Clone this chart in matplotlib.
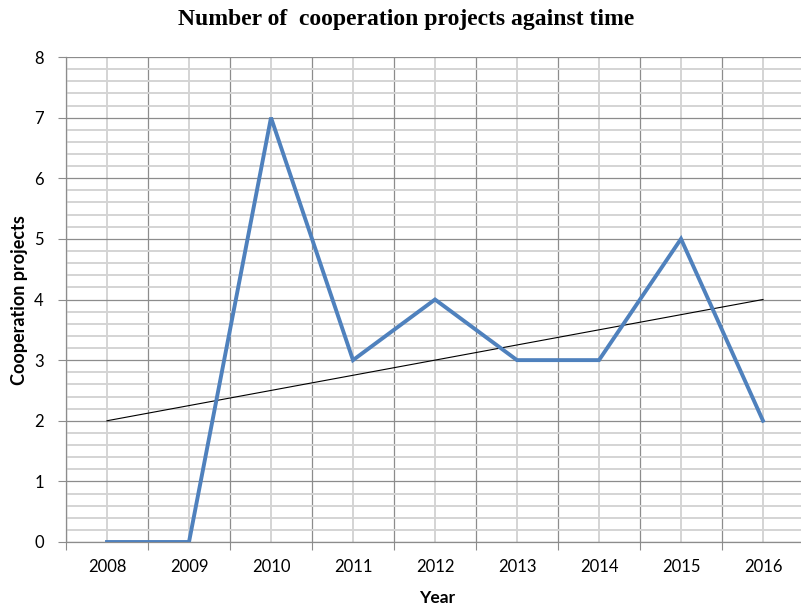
import matplotlib.pyplot as plt
import numpy as np

years = ["2008", "2009", "2010", "2011", "2012", "2013", "2014", "2015", "2016"]
projects = [0, 0, 7, 3, 4, 3, 3, 5, 2]
trend_start, trend_end = 2, 4

x = np.arange(len(years))

fig = plt.figure(figsize=(8.01, 6.09), dpi=100)
ax = fig.add_axes([66 / 801, 1 - 542 / 609, 738 / 801, 485 / 609])

# grid: edges between years and whole numbers are darker, centres and fifths lighter
ax.set_xlim(-0.5, len(years) - 0.5)
ax.set_ylim(0, 8)
ax.set_xticks(np.arange(-0.5, len(years), 1.0))
ax.set_xticks(x, minor=True)
ax.set_yticks(np.arange(0, 9, 1))
ax.set_yticks(np.arange(0, 8.01, 0.2), minor=True)
ax.grid(which="major", color="#8c8c8c", lw=0.9)
ax.grid(which="minor", color="#d4d4d4", lw=1.4)
ax.set_axisbelow(True)

ax.set_xticklabels([])
ax.set_xticklabels(years, minor=True)
ax.tick_params(axis="x", which="major", length=6, color="#8c8c8c")
ax.tick_params(axis="x", which="minor", length=0, pad=12, labelsize=12)
ax.tick_params(axis="y", which="major", length=6, color="#8c8c8c", labelsize=12, pad=10)
ax.tick_params(axis="y", which="minor", length=0)
for lab in ax.get_xticklabels(minor=True) + ax.get_yticklabels():
    lab.set_fontfamily("Lato")

for side in ("top", "right"):
    ax.spines[side].set_visible(False)
for side in ("left", "bottom"):
    ax.spines[side].set_color("#8c8c8c")
    ax.spines[side].set_linewidth(0.9)

ax.plot([x[0], x[-1]], [trend_start, trend_end], color="black", lw=0.8, zorder=3)
ax.plot(x, projects, color="#4f81bd", lw=2.8, zorder=4, solid_joinstyle="miter")

fig.text(437 / 801, 1 - 598 / 609, "Year", ha="center", va="center",
         fontfamily="Lato", fontweight="bold", fontsize=12.5)
fig.text(20 / 801, 1 - 300 / 609, "Cooperation projects", ha="center", va="center",
         rotation=90, fontfamily="Lato", fontweight="bold", fontsize=13)
fig.text(406 / 801, 1 - 19 / 609, "Number of  cooperation projects against time",
         ha="center", va="center", fontfamily="Liberation Serif", fontweight="bold", fontsize=17)

fig.savefig("out.png", dpi=100)
